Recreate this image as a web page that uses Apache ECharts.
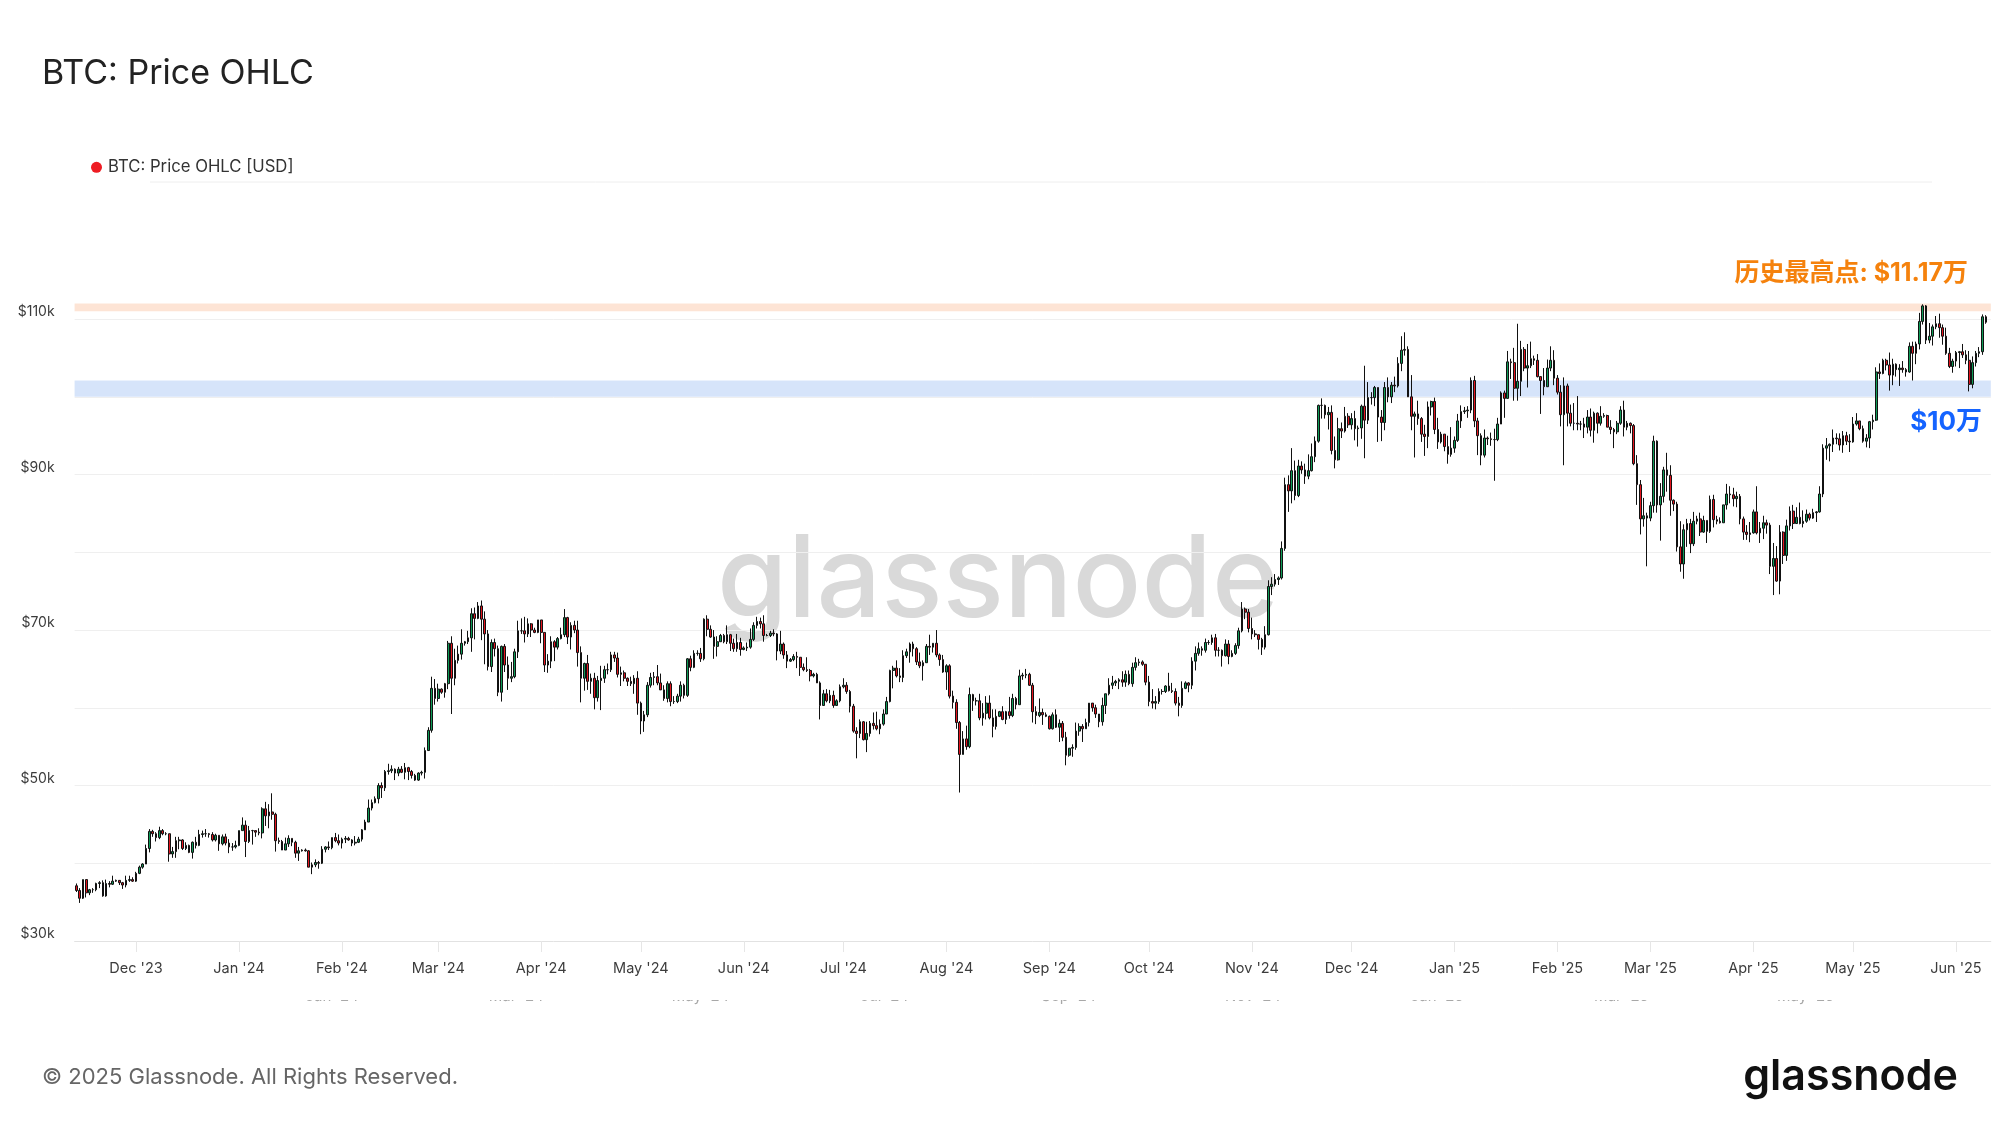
<!DOCTYPE html>
<html><head><meta charset="utf-8">
<script src="https://cdn.jsdelivr.net/npm/echarts@6/dist/echarts.min.js"></script>
<style>html,body{margin:0;padding:0;background:#fff;}#c{width:2000px;height:1126px;}</style>
</head><body><div id="c"></div>
<script>
// Daily BTC candles, values in $k: [open, high, low, close]
const nov23 = [[37.1,37.4,36.3,36.5],[36.5,36.8,34.9,35.5],[35.5,37.9,35.4,37.9],[37.9,37.9,35.6,36.2],[36.2,36.7,35.9,36.6],[36.6,36.8,36.2,36.6],[36.6,37.5,36.4,37.4],[37.4,37.7,36.8,37.5],[37.5,37.8,35.7,35.8],[35.8,37.9,35.7,37.4],[37.4,37.7,36.9,37.3],[37.3,38.4,37.2,37.7],[37.7,37.9,37.6,37.8],[37.8,37.8,37.2,37.5],[37.5,37.6,36.7,37.2],[37.2,38.4,36.9,37.8],[37.8,38.4,37.6,37.9],[37.9,38.2,37.6,37.7]];
const dec23 = [[37.7,38.9,37.6,38.7],[38.7,39.7,38.6,39.5],[39.5,40.0,39.3,39.9],[39.9,42.4,39.9,41.9],[41.9,44.4,41.4,44.1],[44.1,44.3,43.4,43.8],[43.8,44.0,42.8,43.3],[43.3,44.7,43.1,44.2],[44.2,44.4,43.6,43.8],[43.8,44.0,43.6,43.8],[43.8,43.8,40.2,41.2],[41.2,42.1,40.7,41.5],[41.5,43.4,40.7,42.9],[42.9,43.4,41.8,43.0],[43.0,43.1,41.7,41.9],[41.9,42.7,41.7,42.3],[42.3,42.4,41.3,41.4],[41.4,42.8,40.6,42.7],[42.7,43.4,41.9,42.3],[42.3,44.3,42.2,43.7],[43.7,44.2,43.3,43.8],[43.8,44.4,43.4,43.8],[43.8,43.9,43.3,43.7],[43.7,44.0,42.8,43.0],[43.0,43.8,42.8,43.6],[43.6,43.6,41.6,42.5],[42.5,43.7,42.3,43.4],[43.4,43.8,42.3,42.6],[42.6,43.1,41.3,42.1],[42.1,42.6,41.6,42.1],[42.1,42.9,41.9,42.3]];
const jan24 = [[42.3,44.2,42.2,44.2],[44.2,45.9,44.2,44.9],[44.9,45.5,40.8,42.8],[42.8,44.8,42.6,44.2],[44.2,44.3,42.4,44.2],[44.2,44.2,43.4,44.0],[44.0,44.5,43.6,43.9],[43.9,47.2,43.2,47.0],[47.0,47.9,44.8,46.1],[46.1,47.6,44.5,46.6],[46.6,49.0,45.6,46.3],[46.3,46.5,41.5,42.9],[42.9,43.3,42.5,42.8],[42.8,43.0,41.7,41.7],[41.7,43.3,41.7,42.5],[42.5,43.6,42.1,43.2],[43.2,43.2,42.2,42.7],[42.7,42.9,40.7,41.3],[41.3,42.1,40.3,41.6],[41.6,41.8,41.5,41.7],[41.7,41.9,41.5,41.6],[41.6,41.7,39.5,39.5],[39.5,40.1,38.6,39.8],[39.8,40.5,39.5,40.1],[40.1,40.3,39.3,40.0],[40.0,42.2,39.9,41.8],[41.8,42.2,41.4,42.1],[42.1,42.8,41.7,42.0],[42.0,43.3,41.8,43.3],[43.3,43.9,42.7,42.9],[42.9,43.7,42.3,42.6]];
const feb24 = [[42.6,43.3,41.9,43.1],[43.1,43.5,42.6,43.2],[43.2,43.4,42.9,43.0],[43.0,43.1,42.2,42.6],[42.6,43.5,42.3,42.7],[42.7,43.4,42.6,43.1],[43.1,44.4,42.8,44.3],[44.3,45.6,44.3,45.3],[45.3,48.2,45.3,47.1],[47.1,48.2,46.8,47.8],[47.8,48.6,47.7,48.3],[48.3,50.3,47.7,50.0],[50.0,50.4,48.4,49.7],[49.7,52.0,49.3,51.8],[51.8,52.8,51.4,51.9],[51.9,52.6,51.6,52.1],[52.1,52.2,50.7,51.6],[51.6,52.4,51.2,52.1],[52.1,52.5,51.6,51.7],[51.7,52.9,50.8,52.3],[52.3,52.4,50.7,51.8],[51.8,52.0,50.9,51.3],[51.3,51.5,50.6,50.7],[50.7,51.7,50.6,51.6],[51.6,51.9,51.3,51.7],[51.7,54.9,50.9,54.5],[54.5,57.5,54.5,57.1],[57.1,64.0,56.8,62.5],[62.5,63.7,60.4,61.2]];
const mar24 = [[61.2,63.1,60.8,62.4],[62.4,62.5,61.8,62.0],[62.0,63.2,61.3,63.1],[63.1,68.6,62.4,68.3],[68.3,69.2,59.2,63.8],[63.8,67.6,62.9,66.1],[66.1,68.0,65.7,66.9],[66.9,70.1,66.2,68.3],[68.3,68.6,68.0,68.5],[68.5,69.9,68.2,69.0],[69.0,72.8,67.2,72.1],[72.1,72.9,68.8,71.5],[71.5,73.6,71.4,73.1],[73.1,73.8,68.7,71.4],[71.4,72.4,65.6,69.5],[69.5,70.0,64.8,65.3],[65.3,68.8,64.6,68.4],[68.4,68.9,66.6,67.6],[67.6,68.0,61.5,62.0],[62.0,68.0,60.8,67.9],[67.9,68.2,64.6,65.5],[65.5,66.6,62.3,63.8],[63.8,65.9,63.3,64.0],[64.0,67.6,63.8,67.2],[67.2,71.2,66.4,69.9],[69.9,71.5,69.5,69.9],[69.9,71.7,68.4,69.5],[69.5,71.5,69.1,70.8],[70.8,70.9,69.1,70.0],[70.0,70.3,69.6,69.7],[69.7,71.3,69.6,71.3]];
const apr24 = [[71.3,71.3,68.3,69.7],[69.7,69.7,64.6,65.5],[65.5,66.9,64.5,66.0],[66.0,69.2,65.1,68.5],[68.5,68.7,66.0,67.8],[67.8,69.1,67.5,68.9],[68.9,70.3,68.8,69.4],[69.4,72.7,69.1,71.6],[71.6,71.7,68.2,69.1],[69.1,71.0,67.5,70.6],[70.6,71.2,69.6,70.0],[70.0,71.2,65.3,67.1],[67.1,67.9,60.7,63.8],[63.8,65.8,62.2,65.7],[65.7,66.8,62.3,63.4],[63.4,64.4,61.8,63.8],[63.8,64.5,59.8,61.3],[61.3,64.1,60.8,63.5],[63.5,65.4,59.7,63.8],[63.8,65.4,63.2,64.9],[64.9,65.7,64.3,64.9],[64.9,67.2,64.6,66.8],[66.8,67.2,65.9,66.4],[66.4,67.1,63.9,64.3],[64.3,65.3,62.8,64.5],[64.5,64.8,63.4,63.8],[63.8,63.9,62.8,63.4],[63.4,64.0,62.8,63.1],[63.1,64.2,61.8,63.8],[63.8,64.7,59.1,60.6]];
const may24 = [[60.6,60.8,56.6,58.3],[58.3,59.6,56.9,59.1],[59.1,63.3,58.8,62.9],[62.9,64.5,62.6,63.9],[63.9,64.6,62.9,64.0],[64.0,65.5,62.9,63.2],[63.2,64.4,62.3,62.3],[62.3,62.9,60.9,61.2],[61.2,63.4,60.7,63.1],[63.1,63.4,60.2,60.8],[60.8,61.5,60.5,60.8],[60.8,61.8,60.6,61.5],[61.5,63.4,60.8,62.9],[62.9,63.1,61.2,61.6],[61.6,66.4,61.4,66.3],[66.3,66.7,64.7,65.2],[65.2,67.4,65.1,67.0],[67.0,67.4,66.7,67.0],[67.0,67.7,65.9,66.3],[66.3,71.5,66.1,71.4],[71.4,71.9,69.2,70.1],[70.1,70.6,69.0,69.1],[69.1,70.0,66.3,67.9],[67.9,69.2,66.6,68.5],[68.5,69.5,68.5,69.3],[69.3,69.5,68.3,68.5],[68.5,70.6,68.2,69.4],[69.4,69.5,67.3,68.3],[68.3,68.9,67.2,67.6],[67.6,69.5,67.2,68.4],[68.4,69.0,66.7,67.5]];
const jun24 = [[67.5,67.9,67.4,67.7],[67.7,68.4,67.3,67.8],[67.8,70.2,67.6,68.8],[68.8,71.0,68.6,70.6],[70.6,71.7,70.2,71.1],[71.1,71.6,70.2,70.8],[70.8,71.9,68.5,69.3],[69.3,69.5,69.2,69.3],[69.3,69.9,69.1,69.6],[69.6,70.1,69.2,69.5],[69.5,69.6,66.1,67.3],[67.3,69.9,66.9,68.2],[68.2,68.4,66.3,66.8],[66.8,67.3,65.1,66.0],[66.0,66.4,65.9,66.2],[66.2,66.9,66.0,66.6],[66.6,67.2,65.1,66.5],[66.5,66.5,64.1,65.2],[65.2,65.7,64.7,64.9],[64.9,66.5,64.6,64.8],[64.8,65.0,63.4,64.1],[64.1,64.5,63.9,64.3],[64.3,64.5,63.2,63.2],[63.2,63.4,58.5,60.3],[60.3,62.3,60.3,61.8],[61.8,62.4,60.7,60.9],[60.9,62.3,60.6,61.6],[61.6,62.2,60.0,60.3],[60.3,61.1,60.3,60.9],[60.9,63.0,60.7,62.7]];
const jul24 = [[62.7,63.8,62.5,62.9],[62.9,63.3,61.8,62.1],[62.1,62.3,59.4,60.2],[60.2,60.5,56.8,57.0],[57.0,57.5,53.5,56.7],[56.7,58.5,56.1,58.2],[58.2,58.3,55.8,55.9],[55.9,58.2,54.3,56.7],[56.7,58.3,56.3,58.0],[58.0,59.4,57.2,57.7],[57.7,59.5,57.1,57.3],[57.3,58.5,56.6,57.9],[57.9,59.8,57.7,59.2],[59.2,61.4,59.2,60.8],[60.8,64.9,60.7,64.8],[64.8,65.4,62.5,65.1],[65.1,66.1,63.9,64.1],[64.1,65.1,63.3,63.9],[63.9,67.4,63.3,66.7],[66.7,67.6,66.4,67.2],[67.2,68.4,65.8,68.2],[68.2,68.5,66.6,67.6],[67.6,67.8,65.5,65.9],[65.9,67.1,65.1,65.4],[65.4,66.1,63.5,65.8],[65.8,68.2,65.8,67.9],[67.9,69.4,66.8,67.8],[67.8,68.3,67.1,68.3],[68.3,70.0,66.5,66.8],[66.8,67.0,65.4,66.2],[66.2,66.8,64.5,64.6]];
const aug24 = [[64.6,65.6,62.3,65.4],[65.4,65.6,61.2,61.5],[61.5,62.2,59.9,60.7],[60.7,61.1,57.3,58.1],[58.1,58.3,49.1,54.0],[54.0,57.0,54.0,56.0],[56.0,57.7,54.6,55.0],[55.0,62.6,54.8,61.7],[61.7,61.8,59.6,60.9],[60.9,61.3,60.3,60.9],[60.9,61.8,58.4,58.7],[58.7,60.6,57.7,59.3],[59.3,61.5,58.5,60.6],[60.6,61.6,58.5,58.7],[58.7,59.8,56.2,57.6],[57.6,59.8,57.2,58.9],[58.9,59.6,58.8,59.5],[59.5,60.2,58.4,58.5],[58.5,59.6,57.9,59.5],[59.5,61.4,58.6,59.0],[59.0,61.8,58.8,61.2],[61.2,61.4,59.8,60.4],[60.4,64.9,60.4,64.1],[64.1,64.5,63.6,64.2],[64.2,65.0,63.8,64.3],[64.3,64.5,62.8,62.9],[62.9,63.2,58.1,59.5],[59.5,60.2,57.9,59.0],[59.0,61.2,58.8,59.4],[59.4,59.9,57.8,59.1],[59.1,59.4,58.8,58.9]];
const sep24 = [[58.9,59.0,57.2,57.3],[57.3,59.4,57.2,59.1],[59.1,59.8,57.4,57.5],[57.5,58.5,55.6,58.0],[58.0,58.3,55.7,56.2],[56.2,56.9,52.6,53.9],[53.9,54.8,53.7,54.8],[54.8,55.3,53.7,54.9],[54.9,58.1,54.6,57.0],[57.0,58.0,56.4,57.6],[57.6,57.9,55.6,57.3],[57.3,58.6,57.3,58.1],[58.1,60.6,57.6,60.6],[60.6,60.6,59.5,60.0],[60.0,60.4,58.7,59.2],[59.2,59.2,57.5,58.2],[58.2,61.3,57.7,60.3],[60.3,61.8,59.2,61.8],[61.8,63.8,61.6,62.9],[62.9,64.1,62.4,63.2],[63.2,63.6,62.8,63.4],[63.4,63.8,62.4,63.6],[63.6,64.7,62.7,63.3],[63.3,64.8,62.7,64.3],[64.3,64.8,62.9,63.1],[63.1,65.8,62.7,65.2],[65.2,66.5,64.8,65.8],[65.8,66.3,65.4,65.9],[65.9,66.1,65.4,65.6],[65.6,65.6,62.9,63.3]];
const oct24 = [[63.3,64.1,60.2,60.8],[60.8,62.4,59.9,60.6],[60.6,61.5,59.8,60.8],[60.8,62.5,60.5,62.1],[62.1,62.4,61.7,62.1],[62.1,62.9,61.9,62.8],[62.8,64.5,62.1,62.2],[62.2,63.2,61.9,62.1],[62.1,62.5,60.3,60.6],[60.6,61.4,58.9,60.3],[60.3,63.4,60.0,62.5],[62.5,63.4,62.4,63.2],[63.2,63.3,62.0,62.9],[62.9,66.5,62.4,66.0],[66.0,67.9,64.8,67.0],[67.0,68.4,66.7,67.6],[67.6,67.9,66.7,67.4],[67.4,68.9,67.1,68.4],[68.4,68.7,68.1,68.4],[68.4,69.4,68.1,69.0],[69.0,69.5,66.6,67.4],[67.4,67.8,66.6,67.4],[67.4,67.5,65.3,66.7],[66.7,68.8,66.6,68.2],[68.2,68.7,65.6,66.6],[66.6,67.4,66.5,67.0],[67.0,68.3,66.8,68.0],[68.0,70.3,67.6,69.9],[69.9,73.6,69.7,72.7],[72.7,72.9,71.4,72.3],[72.3,72.7,69.7,70.2]];
const nov24 = [[70.2,71.6,68.8,69.5],[69.5,70.0,69.1,69.4],[69.4,69.4,67.5,68.8],[68.8,69.0,66.8,67.8],[67.8,70.5,67.5,69.4],[69.4,76.4,69.3,75.6],[75.6,76.8,74.5,75.9],[75.9,77.2,75.6,76.5],[76.5,76.9,75.8,76.7],[76.7,81.4,76.5,80.5],[80.5,89.6,80.2,88.7],[88.7,89.9,85.2,87.9],[87.9,93.4,86.3,90.5],[90.5,91.8,86.7,87.3],[87.3,91.9,87.1,91.1],[91.1,91.7,90.1,90.6],[90.6,91.4,88.8,89.8],[89.8,92.6,89.4,90.5],[90.5,94.0,90.4,92.3],[92.3,94.9,91.6,94.3],[94.3,99.0,94.1,98.9],[98.9,99.8,97.2,98.9],[98.9,99.0,97.2,97.7],[97.7,98.7,95.8,98.0],[98.0,98.9,92.6,93.1],[93.1,94.9,90.8,91.9],[91.9,97.3,91.8,95.9],[95.9,96.7,94.7,95.6],[95.6,98.7,95.4,97.5],[97.5,97.9,96.0,96.4]];
const dec24 = [[96.4,97.9,95.8,97.2],[97.2,98.2,94.4,95.9],[95.9,96.3,93.6,96.0],[96.0,99.0,94.6,98.8],[98.8,104.0,92.1,97.0],[97.0,101.9,96.5,99.9],[99.9,100.6,99.0,99.9],[99.9,101.4,98.8,101.2],[101.2,101.2,94.2,97.4],[97.4,98.3,94.3,96.7],[96.7,101.9,95.7,101.2],[101.2,102.5,99.3,100.0],[100.0,101.9,99.2,101.5],[101.5,102.6,100.6,101.4],[101.4,105.1,101.2,104.3],[104.3,107.8,103.3,106.0],[106.0,108.3,105.3,106.1],[106.1,106.5,100.0,100.0],[100.0,102.8,95.7,97.5],[97.5,98.1,92.2,97.8],[97.8,99.5,96.4,97.2],[97.2,97.4,94.2,95.2],[95.2,96.4,92.4,94.9],[94.9,99.4,93.4,98.7],[98.7,99.5,97.6,99.4],[99.4,99.9,95.2,95.8],[95.8,97.3,93.3,94.2],[94.2,95.5,94.0,95.2],[95.2,95.2,93.0,93.6],[93.6,95.0,91.4,92.6],[92.6,96.1,92.3,93.4]];
const jan25 = [[93.4,94.9,92.8,94.4],[94.4,97.8,94.2,96.9],[96.9,98.9,96.0,98.1],[98.1,98.7,97.8,98.2],[98.2,98.8,97.3,98.3],[98.3,102.5,97.9,102.1],[102.1,102.7,96.1,96.9],[96.9,97.3,92.5,95.0],[95.0,95.3,91.2,92.5],[92.5,95.8,92.2,94.7],[94.7,94.9,93.8,94.6],[94.6,95.4,93.7,94.5],[94.5,95.9,89.2,94.5],[94.5,97.3,94.3,96.5],[96.5,100.7,96.5,100.5],[100.5,100.8,97.3,99.8],[99.8,105.9,99.8,104.5],[104.5,104.9,102.3,104.4],[104.4,106.3,99.5,101.1],[101.1,109.4,99.5,102.0],[102.0,107.2,100.1,106.1],[106.1,106.4,103.3,103.7],[103.7,106.8,101.2,104.0],[104.0,107.1,103.7,104.9],[104.9,105.3,104.1,104.7],[104.7,105.5,102.5,102.6],[102.6,102.6,97.8,102.1],[102.1,103.7,100.2,101.3],[101.3,104.8,101.3,103.7],[103.7,106.5,103.3,104.7],[104.7,106.0,101.5,102.4]];
const feb25 = [[102.4,102.8,100.3,100.6],[100.6,101.5,96.2,97.7],[97.7,102.5,91.2,101.4],[101.4,101.7,96.2,97.9],[97.9,99.0,96.2,96.6],[96.6,99.2,95.7,96.6],[96.6,100.1,95.7,96.5],[96.5,96.9,95.7,96.5],[96.5,97.3,94.7,96.1],[96.1,98.3,95.3,97.4],[97.4,98.5,94.9,95.7],[95.7,98.1,94.1,97.9],[97.9,98.0,95.3,96.6],[96.6,98.8,96.3,97.5],[97.5,97.9,97.3,97.6],[97.6,97.7,96.1,96.1],[96.1,97.0,95.2,95.8],[95.8,96.0,93.4,95.5],[95.5,96.9,95.2,96.6],[96.6,98.8,96.4,98.3],[98.3,99.5,94.9,96.1],[96.1,96.9,95.7,96.6],[96.6,96.7,95.3,96.3],[96.3,96.5,91.2,91.4],[91.4,92.5,86.1,88.7],[88.7,89.3,82.3,84.3],[84.3,87.0,83.3,84.7],[84.7,85.1,78.2,84.4]];
const mar25 = [[84.4,86.5,84.0,86.0],[86.0,95.0,85.1,94.3],[94.3,94.4,85.1,86.1],[86.1,88.9,81.5,87.2],[87.2,91.0,86.4,90.6],[90.6,92.8,87.8,89.9],[89.9,91.2,84.7,86.7],[86.7,86.8,85.3,86.2],[86.2,86.5,80.1,80.7],[80.7,84.0,77.5,78.5],[78.5,83.6,76.6,82.9],[82.9,84.3,80.7,83.7],[83.7,84.3,79.9,81.1],[81.1,85.2,80.8,84.0],[84.0,84.7,83.6,84.3],[84.3,85.1,82.1,82.6],[82.6,84.7,82.5,84.1],[84.1,84.1,81.2,82.7],[82.7,87.3,82.5,86.8],[86.8,87.4,83.2,84.2],[84.2,84.7,83.6,84.0],[84.0,84.5,83.7,83.8],[83.8,86.1,83.8,86.1],[86.1,88.8,85.5,87.5],[87.5,88.5,86.3,87.4],[87.4,88.3,85.9,86.9],[86.9,87.8,85.8,87.2],[87.2,87.5,83.6,84.3],[84.3,84.6,81.6,82.6],[82.6,83.5,81.6,82.3],[82.3,83.9,81.3,82.5]];
const apr25 = [[82.5,85.5,82.4,85.2],[85.2,88.5,82.3,82.5],[82.5,83.9,81.2,83.1],[83.1,84.7,81.7,83.8],[83.8,84.2,82.4,83.5],[83.5,83.8,77.2,78.2],[78.2,81.2,74.5,79.2],[79.2,80.8,76.2,76.3],[76.3,83.5,74.6,82.6],[82.6,82.7,78.5,79.6],[79.6,84.2,78.9,83.4],[83.4,85.9,82.8,85.3],[85.3,86.1,83.0,83.7],[83.7,85.8,83.7,84.5],[84.5,86.4,83.6,83.7],[83.7,85.4,83.2,84.0],[84.0,85.5,83.8,84.9],[84.9,85.1,84.1,84.4],[84.4,85.6,84.3,85.1],[85.1,85.3,83.9,85.2],[85.2,88.5,85.1,87.5],[87.5,93.9,87.1,93.4],[93.4,94.7,91.9,93.7],[93.7,94.0,91.7,93.9],[93.9,95.8,92.9,94.7],[94.7,95.3,93.9,94.6],[94.6,95.3,93.1,93.8],[93.8,95.6,92.8,95.0],[95.0,95.5,93.8,94.3],[94.3,95.2,92.9,94.2]];
const may25 = [[94.2,97.4,94.1,96.5],[96.5,97.9,96.3,96.9],[96.9,96.9,95.7,95.9],[95.9,96.3,94.1,94.3],[94.3,95.2,93.5,94.7],[94.7,96.9,93.4,96.8],[96.8,97.7,95.8,97.0],[97.0,103.8,96.9,103.2],[103.2,104.3,102.3,103.0],[103.0,104.9,102.9,104.7],[104.7,104.9,103.4,104.1],[104.1,105.7,100.8,102.8],[102.8,104.9,101.5,104.2],[104.2,104.3,102.6,103.5],[103.5,104.2,101.4,103.7],[103.7,104.6,103.1,103.5],[103.5,103.7,102.6,103.2],[103.2,107.0,103.1,106.5],[106.5,107.1,102.1,105.6],[105.6,107.1,104.2,106.8],[106.8,110.8,106.1,109.7],[109.7,111.9,109.3,111.7],[111.7,111.8,106.8,107.3],[107.3,109.5,106.9,107.8],[107.8,109.3,106.6,109.0],[109.0,110.4,108.7,109.4],[109.4,110.7,107.6,108.9],[108.9,109.3,106.7,107.8],[107.8,108.9,105.4,105.6],[105.6,106.3,103.7,103.9],[103.9,104.9,103.1,104.6]];
const jun25 = [[104.6,105.9,103.9,105.7],[105.7,105.9,103.7,105.8],[105.8,106.8,105.0,105.4],[105.4,106.0,104.2,104.7],[104.7,105.9,100.7,101.6],[101.6,105.2,101.1,104.4],[104.4,105.9,103.9,105.6],[105.6,106.4,105.1,105.8],[105.8,110.6,105.4,110.3],[110.3,110.5,109.4,109.6]];

// category axis: first day and number of day slots shown
const firstDay = '2023-11-13';
const daySlots = 577;
const monthLabels = ['Jan','Feb','Mar','Apr','May','Jun','Jul','Aug','Sep','Oct','Nov','Dec'];
const yTickValues = [30000, 50000, 70000, 90000, 110000];
const yTickLabels = ['$30k', '$50k', '$70k', '$90k', '$110k'];
const athBand = [111000, 112000];
const supportBand = [100000, 102100];
// faint, mostly hidden overview-axis labels under the main axis
const ghostLabels = ["Jan '24", "Mar '24", "May '24", "Jul '24", "Sep '24", "Nov '24", "Jan '25", "Mar '25", "May '25"];

const categories = [];
{
  const t0 = Date.parse(firstDay + 'T00:00:00Z');
  for (let i = 0; i < daySlots; i++) categories.push(new Date(t0 + i * 86400000).toISOString().slice(0, 10));
}
const months = [nov23, dec23, jan24, feb24, mar24, apr24, may24, jun24, jul24, aug24, sep24, oct24, nov24, dec24, jan25, feb25, mar25, apr25, may25, jun25];
const ohlc = [].concat(...months);
const candleData = categories.map((c, i) => i < ohlc.length
  ? [ohlc[i][0] * 1000, ohlc[i][3] * 1000, ohlc[i][2] * 1000, ohlc[i][1] * 1000]
  : '-');

const isMonthStart = (idx, val) => String(val).slice(8, 10) === '01';
const fmtMonth = v => monthLabels[+v.slice(5, 7) - 1] + " '" + v.slice(2, 4);

const FONT = 'Inter, "Noto Sans", "Noto Sans CJK SC", sans-serif';
const ghostGraphics = ghostLabels.map((t, i) => ({
  type: 'text', z: 1, x: 332 + i * 184.2, y: 996,
  style: { text: t, font: '400 15px ' + FONT, fill: '#a8a8a8', textAlign: 'center', textVerticalAlign: 'middle' }
}));

const chart = echarts.init(document.getElementById('c'), null, { renderer: 'canvas' });
chart.setOption({
  animation: false,
  backgroundColor: '#ffffff',
  textStyle: { fontFamily: FONT },
  legend: {
    left: 86, top: 154, itemWidth: 11, itemHeight: 11, itemGap: 10,
    textStyle: { fontSize: 16.7, color: '#333', fontFamily: FONT, padding: [0, 0, 0, 1] },
    data: [{ name: 'BTC: Price OHLC [USD]', icon: 'circle', itemStyle: { color: '#ee1c23', borderWidth: 0 } }],
    selectedMode: false
  },
  grid: { left: 74.6, right: 9.2, top: 288, bottom: 185, containLabel: false },
  xAxis: {
    type: 'category', data: categories, boundaryGap: true,
    axisLine: { lineStyle: { color: '#e2e2e2', width: 1 } },
    axisTick: { show: true, alignWithLabel: true, interval: isMonthStart, length: 11, lineStyle: { color: '#e6e6e6' } },
    axisLabel: { interval: isMonthStart, formatter: fmtMonth, margin: 20, fontSize: 14.5, color: '#3c3c3c', fontFamily: FONT },
    splitLine: { show: false }
  },
  yAxis: {
    type: 'value', min: 30000, max: 114000, interval: 10000, scale: false,
    axisLine: { show: false }, axisTick: { show: false },
    axisLabel: {
      showMaxLabel: false, margin: 20, fontSize: 14, color: '#3c3c3c', fontFamily: FONT,
      verticalAlign: 'bottom', lineHeight: 14,
      formatter: v => { const k = yTickValues.indexOf(v); return k >= 0 ? yTickLabels[k] : ''; }
    },
    splitLine: { show: true, showMaxLine: false, showMinLine: false, lineStyle: { color: '#efefef', width: 1 } }
  },
  series: [{
    name: 'BTC: Price OHLC [USD]',
    type: 'candlestick',
    data: candleData,
    large: false,
    barWidth: '64%',
    itemStyle: { color: '#0e9b57', color0: '#e4141e', borderColor: '#111', borderColor0: '#111', borderWidth: 1 },
    markArea: {
      silent: true,
      data: [
        [{ yAxis: athBand[0], itemStyle: { color: 'rgba(248,167,115,0.3)' } }, { yAxis: athBand[1] }],
        [{ yAxis: supportBand[0], itemStyle: { color: 'rgba(118,165,240,0.3)' } }, { yAxis: supportBand[1] }]
      ]
    }
  }],
  graphic: [
    { type: 'text', left: 42, top: 57, style: { text: 'BTC: Price OHLC', font: '400 34px ' + FONT, fill: '#222' } },
    { type: 'line', shape: { x1: 150, y1: 182, x2: 1932, y2: 182 }, style: { stroke: '#eeeeee', lineWidth: 1 } },
    { type: 'text', z: -10, x: 998, y: 583, style: { text: 'glassnode', font: '500 114px ' + FONT, fill: '#d9d9d9', textAlign: 'center', textVerticalAlign: 'middle' } },
    { type: 'text', x: 1968, y: 273, style: { text: '历史最高点: $11.17万', font: '700 25px ' + FONT, fill: '#f5820d', textAlign: 'right', textVerticalAlign: 'middle' } },
    { type: 'text', x: 1982, y: 422, style: { text: '$10万', font: '700 26px ' + FONT, fill: '#1463ff', textAlign: 'right', textVerticalAlign: 'middle' } },
    ...ghostGraphics,
    { type: 'rect', z: 2, shape: { x: 100, y: 984, width: 1850, height: 16 }, style: { fill: '#ffffff' } },
    { type: 'text', x: 42, y: 1077, style: { text: '© 2025 Glassnode. All Rights Reserved.', font: '400 22px ' + FONT, fill: '#666', textVerticalAlign: 'middle' } },
    { type: 'text', x: 1958, y: 1077, style: { text: 'glassnode', font: '600 43px ' + FONT, fill: '#111', textAlign: 'right', textVerticalAlign: 'middle' } }
  ]
});
</script></body></html>
